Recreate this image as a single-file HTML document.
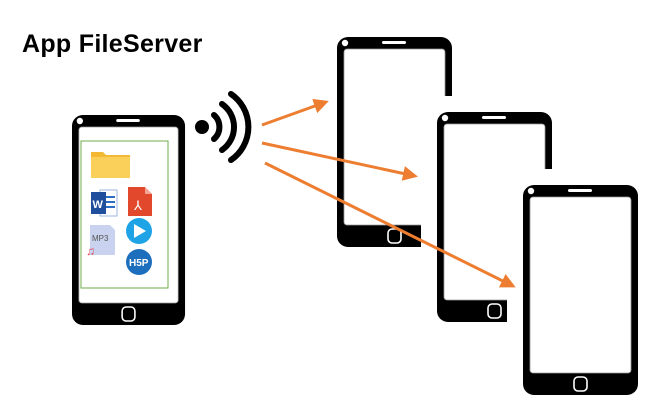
<!DOCTYPE html>
<html><head><style>
body{margin:0;width:670px;height:420px;background:#fff;overflow:hidden;position:relative;font-family:"Liberation Sans",sans-serif}
.t{position:absolute;left:22px;top:30px;font-weight:bold;font-size:25px;color:#000;letter-spacing:0.3px}
svg{position:absolute;left:0;top:0}
</style></head><body>
<svg width="670" height="420" viewBox="0 0 670 420">
<defs>
<g id="ph">
<rect x="0" y="0" width="115" height="210" rx="11" fill="#000"/>
<rect x="7" y="12" width="101" height="176" rx="3" fill="#fff" stroke="#999" stroke-width="0.8"/>
<rect x="45" y="4" width="24" height="3" rx="1.5" fill="#fff"/>
<circle cx="8" cy="6" r="3.2" fill="#fff"/>
<rect x="51" y="192" width="13" height="14" rx="4" fill="none" stroke="#fff" stroke-width="1.6"/>
</g>
<marker id="ah" markerWidth="5" markerHeight="5" refX="4" refY="2.5" orient="auto" markerUnits="strokeWidth"><path d="M0,0 L5,2.5 L0,5 Z" fill="#ed7d31"/></marker>
</defs>
<use href="#ph" x="337" y="37"/>
<rect x="421" y="96" width="240" height="320" fill="#fff"/>
<use href="#ph" x="437" y="112"/>
<rect x="507" y="169" width="160" height="250" fill="#fff"/>
<use href="#ph" x="523" y="185"/>
<g transform="translate(72,115) scale(0.983,1)"><use href="#ph"/></g>
<rect x="81" y="141" width="87" height="147" fill="none" stroke="#70ad47" stroke-width="1"/>
<path d="M91,152 h12 l3,3 h24 v23 h-39 z" fill="#f4b934"/>
<rect x="91" y="157" width="39" height="21" fill="#fbd05a"/>
<rect x="100" y="190" width="17" height="26" fill="#fff" stroke="#9bb5e0"/>
<rect x="103" y="196" width="12" height="2" fill="#2b6cc4"/><rect x="103" y="201" width="12" height="2" fill="#2b6cc4"/><rect x="103" y="206" width="12" height="2" fill="#2b6cc4"/>
<rect x="91" y="192" width="15" height="22" fill="#1e4e9c"/>
<text x="92.5" y="208" font-size="11" font-weight="bold" fill="#fff">W</text>
<path d="M128,187 h17 l7,7 v22 h-24 z" fill="#e2482b"/>
<path d="M145,187 v7 h7 z" fill="#f3a391"/>
<text x="134" y="210" font-size="13" fill="#fff">⅄</text>
<path d="M90,225 h20 l5,5 v25 h-25 z" fill="#c9d2ee"/>
<text x="92" y="241" font-size="8" fill="#555">MP3</text>
<text x="86" y="255" font-size="12" fill="#e0485a">♫</text>
<circle cx="139" cy="231" r="13" fill="#1ea3e6"/>
<path d="M134,224 L146,231 L134,238 Z" fill="#fff"/>
<circle cx="139" cy="262" r="13" fill="#1d6fbd"/>
<text x="129" y="266" font-size="10" font-weight="bold" fill="#fff">H5P</text>
<circle cx="202" cy="127" r="7" fill="#000"/>
<g fill="none" stroke="#000" stroke-width="6" stroke-linecap="round">
<path d="M214,115 A16,16 0 0 1 214,139"/>
<path d="M222,104 A28,28 0 0 1 222,150"/>
<path d="M231,94 A40,40 0 0 1 231,160"/>
</g>
<g stroke="#ed7d31" stroke-width="3" fill="none" marker-end="url(#ah)">
<line x1="262" y1="125" x2="326" y2="102"/>
<line x1="262" y1="143" x2="415" y2="176"/>
<line x1="265" y1="163" x2="513" y2="286"/>
</g>
</svg>
<div class="t">App FileServer</div>
</body></html>
